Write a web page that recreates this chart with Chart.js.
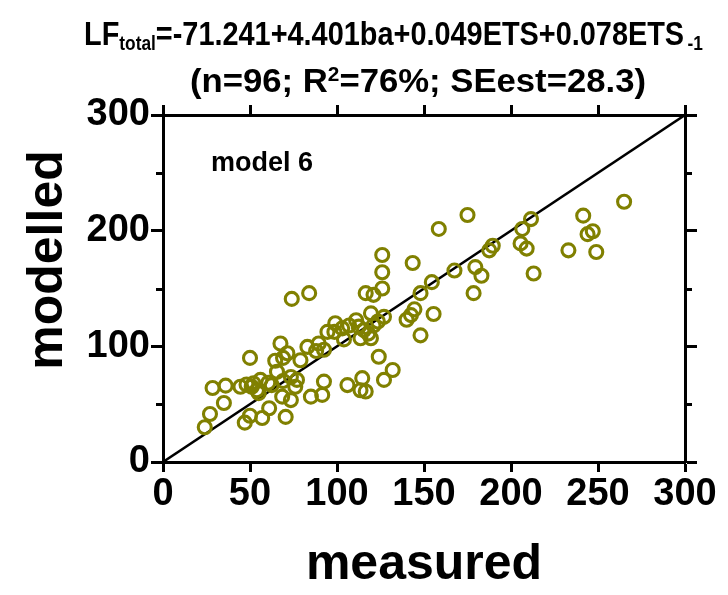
<!DOCTYPE html>
<html>
<head>
<meta charset="utf-8">
<script src="https://cdn.jsdelivr.net/npm/chart.js@4"></script>
<style>
  html, body { margin: 0; padding: 0; background: #fff; }
  #wrap { position: relative; width: 728px; height: 595px; }
  #chart { position: absolute; left: 0; top: 0; }
  .ttl {
    position: absolute;
    white-space: nowrap;
    font-family: "Liberation Sans", Arial, sans-serif;
    font-weight: bold;
    color: #000;
    line-height: 1;
    transform-origin: 0 0;
  }
  .sub { font-size: 0.6em; position: relative; top: 0.25em; }
  .sup { font-size: 0.6em; position: relative; top: -0.55em; }
</style>
</head>
<body>
<div id="wrap">
  <canvas id="chart" width="728" height="595"></canvas>
  <div class="ttl" id="t1" data-w="619" style="left:84px; top:16px; font-size:34px;">LF<span class="sub">total</span>=-71.241+4.401ba+0.049ETS+0.078ETS<span class="sub" style="margin-left:0.2em">-1</span></div>
  <div class="ttl" id="t2" data-w="456" style="left:190px; top:63px; font-size:34px;">(n=96; R<span class="sup">2</span>=76%; SEest=28.3)</div>
</div>
<script>
  // values
  const measured = [
    24, 27, 28.5, 35, 36, 44.5, 48, 50, 47, 50,
    51, 54, 55, 57, 61, 64.5, 67.5, 62.5, 70.5, 65.5,
    71.5, 74, 84, 79, 83, 89.5, 92.5, 94.5, 99, 103,
    104, 111, 112.5, 113.5, 119.5, 119.5, 123.5, 127, 116.5, 121,
    126, 126, 126, 143.5, 148, 154.5, 155.5, 144.5, 140, 142.5,
    148, 124, 132, 127, 114.5, 113.5, 116.5, 106, 92.5, 91.5,
    85, 76, 73.5, 73.5, 265, 241.5, 247, 244, 249, 233,
    211.5, 206.5, 205.5, 209, 213, 189.5, 187.5, 175, 158.5, 167.5,
    179.5, 183, 178.5, 69, 77, 56, 68.5, 115.5, 98.5, 60.5,
    52, 121, 107, 88, 69, 118
  ];
  const modelled = [
    30, 41.5, 64, 51, 66, 65, 67, 90, 34, 40,
    65, 62, 59.5, 38, 46.5, 87.5, 102.5, 66.5, 39, 78,
    94, 141, 146, 88, 99.5, 102.5, 97, 112.5, 120, 115.5,
    106, 122.5, 117, 107, 107, 128.5, 121.5, 125.5, 146, 144.5,
    150, 164, 179, 172, 146, 155.5, 128, 132, 123, 127,
    109.5, 91, 79.5, 71, 72.5, 62, 61, 66.5, 69.5, 58,
    56.5, 65, 73.5, 53.5, 225, 213, 199.5, 197, 181.5, 183,
    210, 201.5, 189, 184.5, 163, 187, 183, 213.5, 201.5, 165.5,
    168.5, 161, 146, 70, 71, 71, 56.5, 114, 112.5, 68.5,
    68, 118, 118, 96, 90, 111
  ];
  const axisRange = [0, 300];
  const minorTicksY = [50, 150, 250];

  // squeeze the title lines to the width they have in the picture
  document.querySelectorAll('.ttl').forEach(el => {
    const w = el.getBoundingClientRect().width;
    el.style.transform = 'scaleX(' + (Number(el.dataset.w) / w) + ')';
  });

  const points = measured.map((v, i) => ({ x: v, y: modelled[i] }));
  const identity = axisRange.map(v => ({ x: v, y: v }));

  const tickFont = { family: '"Liberation Sans", Arial, sans-serif', weight: 'bold', size: 38 };
  const labelFont = { family: '"Liberation Sans", Arial, sans-serif', weight: 'bold', size: 50 };

  // short ticks on the y axes, texts that chart.js can't place
  const extras = {
    id: 'extras',
    afterDraw(chart) {
      const { ctx, chartArea, scales } = chart;
      ctx.save();
      ctx.strokeStyle = '#000';
      ctx.lineWidth = 3;
      minorTicksY.forEach(v => {
        const py = Math.round(scales.y.getPixelForValue(v)) + 0.5;
        ctx.beginPath();
        ctx.moveTo(chartArea.left, py);
        ctx.lineTo(chartArea.left - 7, py);
        ctx.moveTo(chartArea.right, py);
        ctx.lineTo(chartArea.right + 7, py);
        ctx.stroke();
      });
      ctx.fillStyle = '#000';
      ctx.textBaseline = 'alphabetic';
      ctx.textAlign = 'left';
      ctx.font = 'bold 27px "Liberation Sans", Arial, sans-serif';
      ctx.fillText('model 6', chartArea.left + 48, chartArea.top + 56);
      ctx.font = 'bold 50px "Liberation Sans", Arial, sans-serif';
      ctx.translate(62, 260);
      ctx.rotate(-Math.PI / 2);
      ctx.textAlign = 'center';
      ctx.fillText('modelled', 0, 0);
      ctx.restore();
    }
  };

  const frameAxis = (pos, len, extra) => Object.assign({
    type: 'linear',
    position: pos,
    min: axisRange[0],
    max: axisRange[1],
    grid: { drawOnChartArea: false, tickLength: len, tickWidth: 3, tickColor: '#000' },
    border: { width: 3, color: '#000' }
  }, extra);

  const chart = new Chart(document.getElementById('chart'), {
    type: 'scatter',
    data: {
      datasets: [{
        label: 'model 6',
        data: points,
        pointStyle: 'circle',
        pointRadius: 6.5,
        pointBorderWidth: 3.1,
        borderColor: '#808000',
        backgroundColor: 'rgba(0,0,0,0)',
        pointHoverRadius: 6.5
      }, {
        type: 'line',
        label: '1:1',
        data: identity,
        borderColor: '#000',
        borderWidth: 2.5,
        pointRadius: 0,
        fill: false
      }]
    },
    options: {
      responsive: false,
      devicePixelRatio: 1,
      animation: false,
      layout: { padding: 0 },
      plugins: {
        legend: { display: false },
        tooltip: { enabled: false },
        title: { display: false }
      },
      scales: {
        x: frameAxis('bottom', 10, {
          ticks: { stepSize: 50, font: tickFont, color: '#000', padding: 0, maxRotation: 0, autoSkip: false },
          title: { display: true, text: 'measured', font: labelFont, color: '#000', padding: { top: 0, bottom: 0 } },
          afterFit: s => { s.height = 133; }
        }),
        y: frameAxis('left', 12, {
          ticks: { stepSize: 100, font: tickFont, color: '#000', padding: 1 },
          afterFit: s => { s.width = 163; }
        }),
        x2: frameAxis('top', 10, {
          ticks: { display: false, stepSize: 50 },
          afterFit: s => { s.height = 115; }
        }),
        y2: frameAxis('right', 12, {
          ticks: { display: false, stepSize: 100 },
          afterFit: s => { s.width = 43; }
        })
      }
    },
    plugins: [extras]
  });
</script>
</body>
</html>
